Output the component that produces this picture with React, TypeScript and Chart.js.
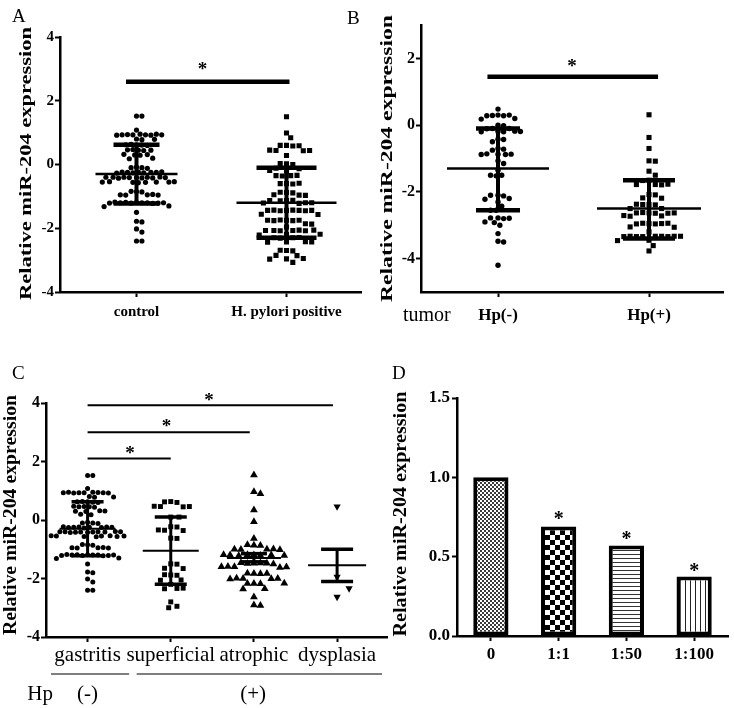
import React, { useEffect, useRef } from 'react';
import { Chart, registerables } from 'chart.js';

Chart.register(...registerables);

const SERIF = '"Liberation Serif", "Times New Roman", Times, serif';
const Y_TITLE = 'Relative miR-204 expression';

// ---------------- Panel A ----------------
const aCategories = ['control', 'H. pylori positive'];
const aControl = [
  1.52, 1.52,
  1.08,
  0.95, 0.93, 0.93, 0.94, 0.92, 0.93, 0.95, 0.92, 0.93,
  0.8, 0.78, 0.79,
  0.62, 0.63, 0.61, 0.6, 0.62,
  0.47, 0.45, 0.46, 0.44, 0.45,
  0.32, 0.3, 0.31, 0.29,
  0.18, 0.2,
  -0.08, -0.1, -0.1, -0.12,
  -0.24, -0.25, -0.26, -0.25, -0.24, -0.26, -0.25, -0.27, -0.23,
  -0.41, -0.4, -0.42, -0.4, -0.41, -0.39, -0.42, -0.4, -0.41, -0.43, -0.4,
  -0.56, -0.55, -0.54, -0.56, -0.55, -0.57, -0.55, -0.54,
  -0.85, -0.86, -0.84,
  -0.95, -0.96, -0.94, -0.95, -0.96,
  -1.19, -1.2, -1.21, -1.2, -1.19, -1.22, -1.2, -1.21, -1.18, -1.2, -1.21,
  -1.3, -1.32,
  -1.5,
  -1.78, -1.8,
  -2.02, -2.12,
  -2.4, -2.4,
];
const aHpylori = [
  1.5,
  0.99, 0.84,
  0.6, 0.58, 0.6, 0.59,
  0.44, 0.43, 0.45, 0.44,
  0.28,
  0.02, 0.0, 0.03,
  -0.12, -0.13,
  -0.2, -0.19,
  -0.35, -0.36, -0.34, -0.35,
  -0.6, -0.61, -0.6, -0.59,
  -0.88, -0.89, -0.87,
  -0.96, -0.95, -0.97,
  -1.13, -1.12, -1.14, -1.13,
  -1.22, -1.2, -1.21, -1.2,
  -1.44, -1.43, -1.45, -1.44, -1.43, -1.45, -1.44, -1.44,
  -1.56, -1.57,
  -1.75, -1.76, -1.74, -1.75, -1.76, -1.75,
  -1.86, -1.87,
  -1.96,
  -2.07, -2.08, -2.06, -2.07, -2.08, -2.07, -2.06,
  -2.2, -2.21, -2.19,
  -2.3, -2.31, -2.29, -2.3,
  -2.43, -2.42, -2.44, -2.43,
  -2.7, -2.71, -2.69,
  -2.85, -2.86,
  -2.96, -2.95, -2.97,
  -3.07,
];
const aMean = [-0.3, -1.2];
const aUpperSD = [0.62, -0.1];
const aLowerSD = [-1.22, -2.3];
const aYTicks = [-4, -2, 0, 2, 4];
const aSigBar = [-0.07, 1.02, 2.6]; // from group, to group, y
const aStar = [0.44, 3.1];

// ---------------- Panel B ----------------
const bCategories = ['Hp(-)', 'Hp(+)'];
const bHpNeg = [
  0.48,
  0.3, 0.28, 0.29, 0.3, 0.28,
  0.2, 0.18,
  0.0, -0.02,
  -0.1, -0.1, -0.11,
  -0.19, -0.2, -0.18, -0.2, -0.19,
  -0.42, -0.43, -0.5,
  -0.7, -0.72, -0.75,
  -0.87, -0.88, -0.86, -0.87, -0.88,
  -1.07, -1.15,
  -1.35, -1.5, -1.52, -1.5,
  -2.1, -2.12, -2.1,
  -2.2, -2.22, -2.3, -2.43,
  -2.55, -2.55,
  -2.78, -2.8, -2.78, -2.79,
  -2.9, -2.92, -3.0,
  -3.25,
  -3.48, -3.5,
  -4.2,
];
const bHpPos = [
  0.31, -0.37, -0.7,
  -1.07, -1.08,
  -1.38, -1.5,
  -1.65, -1.66,
  -1.78, -1.79, -1.78, -1.77,
  -2.08, -2.09, -2.18, -2.19,
  -2.38, -2.39, -2.38, -2.37,
  -2.5, -2.5,
  -2.63, -2.64, -2.62, -2.63, -2.64, -2.63,
  -2.72, -2.73, -2.71,
  -2.95, -2.96, -2.94, -2.95, -2.96, -2.94,
  -3.05, -3.06,
  -3.2,
  -3.33, -3.34, -3.33, -3.34, -3.33, -3.34, -3.33, -3.34, -3.33,
  -3.45, -3.46,
  -3.61,
  -3.77,
];
const bMean = [-1.3, -2.5];
const bUpperSD = [-0.1, -1.65];
const bLowerSD = [-2.55, -3.4];
const bYTicks = [-4, -2, 0, 2];
const bSigBar = [-0.07, 1.06, 1.45];
const bStar = [0.49, 1.87];
const bRowLabel = 'tumor';

// ---------------- Panel C ----------------
const cCategories = ['gastritis', 'superficial', 'atrophic', 'dysplasia'];
const cGastritis = aControl; // same Hp(-) gastritis samples as panel A control
const cSuperficial = [
  0.63, 0.6, 0.62,
  0.46, 0.45, 0.47, 0.46,
  0.1, 0.1,
  -0.23, -0.24,
  -0.35, -0.36, -0.34,
  -0.62, -0.63,
  -1.5, -1.51,
  -1.65, -1.66,
  -1.88, -1.89, -1.87,
  -2.05, -2.06,
  -2.2,
  -2.34, -2.35, -2.33,
  -2.8,
  -2.95, -3.0,
];
const cAtrophic = [
  1.54, 0.97, 0.9, 0.34, -0.06, -0.63,
  -0.86, -0.87, -0.85,
  -1.0, -1.01, -0.99, -1.0, -1.02,
  -1.2, -1.21, -1.19, -1.2, -1.22, -1.2, -1.21, -1.19,
  -1.48, -1.47, -1.49, -1.48, -1.46, -1.5,
  -1.6, -1.62, -1.59, -1.61, -1.6,
  -1.83, -1.84, -1.82, -1.83,
  -2.0, -2.01, -1.99, -2.0, -2.02,
  -2.17, -2.18, -2.16, -2.17,
  -2.35, -2.36,
  -2.63,
  -2.91, -2.92,
];
const cDysplasia = [0.46, -1.94, -2.63, -2.34];
const cMean = [-0.3, -1.05, -1.3, -1.55];
const cUpperSD = [0.62, 0.1, -1.15, -1.0];
const cLowerSD = [-1.22, -2.2, -1.43, -2.1];
const cYTicks = [-4, -2, 0, 2, 4];
const cSigBars = [
  [0, 1.0, 2.1],
  [0, 1.95, 3.0],
  [0, 2.95, 3.92],
];
const cStars = [
  [0.51, 2.4],
  [0.95, 3.32],
  [1.46, 4.21],
];
const cHpLabel = 'Hp';
const cHpLabelX = -0.57;
const cHpGroups = ['(-)', '(+)'];
const cHpCenters = [0, 1.99];
const cHpSpans = [
  [-0.44, 0.5],
  [0.59, 3.54],
];

// ---------------- Panel D ----------------
const dCategories = ['0', '1:1', '1:50', '1:100'];
const dValues = [1.0, 0.69, 0.57, 0.375];
const dYTicks = [0, 0.5, 1.0, 1.5];
const dStars = [
  [1, 0.76],
  [2, 0.63],
  [3, 0.43],
];

// ---------------- helpers ----------------
type GroupStyle = { pointStyle: string; radius: number; rotation: number; gap: number };
type TitleSpec = { cx: number; cy: number; len: number; size: number };
type ScatterSpec = {
  categories: string[];
  groups: number[][];
  styles: GroupStyle[];
  mean: number[];
  upper: number[];
  lower: number[];
  meanHalf: number[];
  capHalf: number[];
  meanWidth: number;
  capWidth: number;
  stemWidth: number;
  xMin: number;
  xMax: number;
  yMin: number;
  yMax: number;
  yTicks: number[];
  padTop: number;
  padRight: number;
  yAxisWidth: number;
  xAxisHeight: number;
  yTickSize: number;
  xTickSize: number;
  xTickBold: boolean;
  xTickPad: number;
  title: TitleSpec;
  sigBars: number[][];
  sigWidth: number;
  stars: number[][];
  starSize: number;
  extra?: (chart: any) => void;
};

function drawVerticalTitle(ctx: CanvasRenderingContext2D, t: TitleSpec) {
  ctx.save();
  ctx.font = `bold ${t.size}px ${SERIF}`;
  const w = ctx.measureText(Y_TITLE).width;
  ctx.translate(t.cx, t.cy);
  ctx.rotate(-Math.PI / 2);
  ctx.scale(t.len / w, 1);
  ctx.textAlign = 'center';
  ctx.textBaseline = 'middle';
  ctx.fillStyle = '#000';
  ctx.fillText(Y_TITLE, 0, 0);
  ctx.restore();
}

function drawStar(ctx: CanvasRenderingContext2D, px: number, py: number, size: number) {
  ctx.save();
  ctx.font = `bold ${size}px ${SERIF}`;
  ctx.textAlign = 'center';
  ctx.textBaseline = 'alphabetic';
  ctx.fillStyle = '#000';
  ctx.fillText('*', px, py + 0.47 * size);
  ctx.restore();
}

function hLine(ctx: CanvasRenderingContext2D, x1: number, x2: number, y: number, w: number) {
  ctx.lineWidth = w;
  ctx.beginPath();
  ctx.moveTo(x1, y);
  ctx.lineTo(x2, y);
  ctx.stroke();
}

function beeswarm(values: number[], center: number, xs: any, ys: any, gap: number) {
  const cx = xs.getPixelForValue(center);
  const placed: { x: number; y: number }[] = [];
  const step = gap / 3;
  return values.map((v) => {
    const py = ys.getPixelForValue(v);
    let px = cx;
    for (let n = 0; n < 400; n++) {
      const k = Math.ceil(n / 2);
      px = cx + (n % 2 === 1 ? k : -k) * step;
      if (placed.every((p) => (p.x - px) ** 2 + (p.y - py) ** 2 >= gap * gap)) break;
    }
    placed.push({ x: px, y: py });
    return { x: xs.getValueForPixel(px), y: v };
  });
}

function axisCommon() {
  return {
    grid: { drawOnChartArea: false, drawTicks: true, tickLength: 5, tickWidth: 2, tickColor: '#000', color: '#000' },
    border: { display: true, color: '#000', width: 2.5 },
  };
}

function buildScatter(canvas: HTMLCanvasElement, s: ScatterSpec) {
  const summaryPlugin = {
    id: 'summaryLines',
    afterDatasetsDraw(chart: any) {
      const { ctx, scales } = chart;
      const x = scales.x;
      const y = scales.y;
      ctx.save();
      ctx.strokeStyle = '#000';
      ctx.lineCap = 'butt';
      s.mean.forEach((m, i) => {
        const cx = x.getPixelForValue(i);
        const yu = y.getPixelForValue(s.upper[i]);
        const yl = y.getPixelForValue(s.lower[i]);
        ctx.lineWidth = s.stemWidth;
        ctx.beginPath();
        ctx.moveTo(cx, yu);
        ctx.lineTo(cx, yl);
        ctx.stroke();
        hLine(ctx, cx - s.capHalf[i], cx + s.capHalf[i], yu, s.capWidth);
        hLine(ctx, cx - s.capHalf[i], cx + s.capHalf[i], yl, s.capWidth);
        hLine(ctx, cx - s.meanHalf[i], cx + s.meanHalf[i], y.getPixelForValue(m), s.meanWidth);
      });
      ctx.restore();
    },
  };
  const annotPlugin = {
    id: 'annotations',
    afterDraw(chart: any) {
      const { ctx, scales } = chart;
      const x = scales.x;
      const y = scales.y;
      ctx.save();
      ctx.strokeStyle = '#000';
      ctx.fillStyle = '#000';
      s.sigBars.forEach(([a, b, v]) => {
        hLine(ctx, x.getPixelForValue(a), x.getPixelForValue(b), y.getPixelForValue(v), s.sigWidth);
      });
      s.stars.forEach(([a, v]) => drawStar(ctx, x.getPixelForValue(a), y.getPixelForValue(v), s.starSize));
      drawVerticalTitle(ctx, s.title);
      if (s.extra) s.extra(chart);
      ctx.restore();
    },
  };

  const chart = new Chart(canvas, {
    type: 'scatter',
    data: {
      datasets: s.groups.map((g, i) => ({
        data: g.map((v) => ({ x: i, y: v })),
        pointStyle: s.styles[i].pointStyle as any,
        pointRadius: s.styles[i].radius,
        pointHoverRadius: s.styles[i].radius,
        pointRotation: s.styles[i].rotation,
        backgroundColor: '#000',
        borderColor: '#000',
        borderWidth: 0,
      })),
    },
    options: {
      responsive: false,
      animation: false,
      events: [],
      layout: { padding: { top: s.padTop, right: s.padRight, left: 0, bottom: 0 } },
      plugins: { legend: { display: false }, tooltip: { enabled: false } },
      scales: {
        x: {
          type: 'linear',
          min: s.xMin,
          max: s.xMax,
          ...axisCommon(),
          afterBuildTicks: (scale: any) => {
            scale.ticks = s.categories.map((_, i) => ({ value: i }));
          },
          afterFit: (scale: any) => {
            scale.height = s.xAxisHeight;
          },
          ticks: {
            autoSkip: false,
            maxRotation: 0,
            padding: s.xTickPad,
            color: '#000',
            font: { family: SERIF, size: s.xTickSize, weight: s.xTickBold ? 'bold' : 'normal' },
            callback: (v: any) => s.categories[Math.round(Number(v))] ?? '',
          },
        },
        y: {
          type: 'linear',
          min: s.yMin,
          max: s.yMax,
          ...axisCommon(),
          afterBuildTicks: (scale: any) => {
            scale.ticks = s.yTicks.map((v) => ({ value: v }));
          },
          afterFit: (scale: any) => {
            scale.width = s.yAxisWidth;
          },
          ticks: {
            padding: 1,
            color: '#000',
            font: { family: SERIF, size: s.yTickSize, weight: 'bold' },
            callback: (v: any) => String(v),
          },
        },
      },
    } as any,
    plugins: [summaryPlugin, annotPlugin],
  });

  const xs = chart.scales.x;
  const ys = chart.scales.y;
  chart.data.datasets.forEach((ds: any, i: number) => {
    ds.data = beeswarm(s.groups[i], i, xs, ys, s.styles[i].gap);
  });
  chart.update('none');
  return chart;
}

function makePattern(kind: string): CanvasPattern {
  const c = document.createElement('canvas');
  const g = c.getContext('2d') as CanvasRenderingContext2D;
  if (kind === 'fine') {
    c.width = 4;
    c.height = 4;
    g.fillStyle = '#fff';
    g.fillRect(0, 0, 4, 4);
    g.fillStyle = '#3a3a3a';
    g.fillRect(0, 0, 2, 2);
    g.fillRect(2, 2, 2, 2);
  } else if (kind === 'checker') {
    c.width = 10;
    c.height = 10;
    g.fillStyle = '#fff';
    g.fillRect(0, 0, 10, 10);
    g.fillStyle = '#000';
    g.fillRect(0, 0, 5, 5);
    g.fillRect(5, 5, 5, 5);
  } else if (kind === 'hlines') {
    c.width = 4;
    c.height = 4;
    g.fillStyle = '#fff';
    g.fillRect(0, 0, 4, 4);
    g.fillStyle = '#333';
    g.fillRect(0, 0, 4, 1);
  } else {
    c.width = 5;
    c.height = 5;
    g.fillStyle = '#fff';
    g.fillRect(0, 0, 5, 5);
    g.fillStyle = '#222';
    g.fillRect(0, 0, 1, 5);
  }
  return g.createPattern(c, 'repeat') as CanvasPattern;
}

function buildBars(canvas: HTMLCanvasElement) {
  const patterns = ['fine', 'checker', 'hlines', 'vlines'].map(makePattern);
  const title: TitleSpec = { cx: 21, cy: 144, len: 245, size: 19 };
  const annotPlugin = {
    id: 'barAnnotations',
    afterDraw(chart: any) {
      const { ctx, scales } = chart;
      ctx.save();
      dStars.forEach(([i, v]) => drawStar(ctx, scales.x.getPixelForValue(i), scales.y.getPixelForValue(v), 20));
      drawVerticalTitle(ctx, title);
      ctx.restore();
    },
  };
  return new Chart(canvas, {
    type: 'bar',
    data: {
      labels: dCategories,
      datasets: [
        {
          data: dValues,
          backgroundColor: patterns as any,
          borderColor: '#000',
          borderWidth: 4,
          borderSkipped: false,
          barPercentage: 0.52,
          categoryPercentage: 1,
        },
      ],
    },
    options: {
      responsive: false,
      animation: false,
      events: [],
      layout: { padding: { top: 28, right: 6, left: 0, bottom: 0 } },
      plugins: { legend: { display: false }, tooltip: { enabled: false } },
      scales: {
        x: {
          ...axisCommon(),
          grid: { ...axisCommon().grid, offset: false },
          afterFit: (scale: any) => {
            scale.height = 72;
          },
          ticks: { padding: 3, color: '#000', font: { family: SERIF, size: 17, weight: 'bold' } },
        },
        y: {
          min: 0,
          max: 1.5,
          ...axisCommon(),
          afterBuildTicks: (scale: any) => {
            scale.ticks = dYTicks.map((v) => ({ value: v }));
          },
          afterFit: (scale: any) => {
            scale.width = 77;
          },
          ticks: {
            padding: 2,
            color: '#000',
            font: { family: SERIF, size: 17, weight: 'bold' },
            callback: (v: any) => Number(v).toFixed(1),
          },
        },
      },
    } as any,
    plugins: [annotPlugin],
  });
}

const specA: ScatterSpec = {
  categories: aCategories,
  groups: [aControl, aHpylori],
  styles: [
    { pointStyle: 'circle', radius: 2.6, rotation: 0, gap: 5.4 },
    { pointStyle: 'rect', radius: 3.6, rotation: 0, gap: 6.3 },
  ],
  mean: aMean,
  upper: aUpperSD,
  lower: aLowerSD,
  meanHalf: [41, 50],
  capHalf: [23, 30],
  meanWidth: 2.5,
  capWidth: 4.5,
  stemWidth: 4,
  xMin: -0.51,
  xMax: 1.5,
  yMin: -4,
  yMax: 4,
  yTicks: aYTicks,
  padTop: 37,
  padRight: 8.5,
  yAxisWidth: 60,
  xAxisHeight: 48,
  yTickSize: 15,
  xTickSize: 15,
  xTickBold: true,
  xTickPad: 6,
  title: { cx: 26.3, cy: 163.5, len: 273, size: 17 },
  sigBars: [aSigBar],
  sigWidth: 4.5,
  stars: [aStar],
  starSize: 19,
};

const specB: ScatterSpec = {
  categories: bCategories,
  groups: [bHpNeg, bHpPos],
  styles: [
    { pointStyle: 'circle', radius: 2.7, rotation: 0, gap: 5.6 },
    { pointStyle: 'rect', radius: 3.6, rotation: 0, gap: 6.3 },
  ],
  mean: bMean,
  upper: bUpperSD,
  lower: bLowerSD,
  meanHalf: [51, 52],
  capHalf: [22, 26],
  meanWidth: 2.5,
  capWidth: 4.5,
  stemWidth: 4,
  xMin: -0.51,
  xMax: 1.49,
  yMin: -5,
  yMax: 3,
  yTicks: bYTicks,
  padTop: 25,
  padRight: 11,
  yAxisWidth: 51,
  xAxisHeight: 48,
  yTickSize: 16,
  xTickSize: 17,
  xTickBold: true,
  xTickPad: 8.6,
  title: { cx: 17.2, cy: 158.5, len: 287, size: 17 },
  sigBars: [bSigBar],
  sigWidth: 4.5,
  stars: [bStar],
  starSize: 19,
  extra: (chart: any) => {
    const { ctx, chartArea } = chart;
    ctx.font = `20px ${SERIF}`;
    ctx.textAlign = 'left';
    ctx.textBaseline = 'alphabetic';
    ctx.fillStyle = '#000';
    ctx.fillText(bRowLabel, 33, chartArea.bottom + 29);
  },
};

const specC: ScatterSpec = {
  categories: cCategories,
  groups: [cGastritis, cSuperficial, cAtrophic, cDysplasia],
  styles: [
    { pointStyle: 'circle', radius: 2.5, rotation: 0, gap: 5.2 },
    { pointStyle: 'rect', radius: 3.5, rotation: 0, gap: 6.2 },
    { pointStyle: 'triangle', radius: 4.5, rotation: 0, gap: 6.5 },
    { pointStyle: 'triangle', radius: 4.2, rotation: 180, gap: 12 },
  ],
  mean: cMean,
  upper: cUpperSD,
  lower: cLowerSD,
  meanHalf: [28, 28, 27, 29],
  capHalf: [16, 16, 13, 16],
  meanWidth: 2,
  capWidth: 3.5,
  stemWidth: 3,
  xMin: -0.5,
  xMax: 3.6,
  yMin: -4,
  yMax: 4,
  yTicks: cYTicks,
  padTop: 33,
  padRight: 13,
  yAxisWidth: 46,
  xAxisHeight: 71,
  yTickSize: 16,
  xTickSize: 21,
  xTickBold: false,
  xTickPad: 1.3,
  title: { cx: 11, cy: 145, len: 240, size: 19 },
  sigBars: cSigBars,
  sigWidth: 2,
  stars: cStars,
  starSize: 19,
  extra: (chart: any) => {
    const { ctx, chartArea, scales } = chart;
    const x = scales.x;
    ctx.strokeStyle = '#000';
    cHpSpans.forEach(([a, b]) => hLine(ctx, x.getPixelForValue(a), x.getPixelForValue(b), chartArea.bottom + 37, 1.2));
    ctx.font = `21px ${SERIF}`;
    ctx.textAlign = 'center';
    ctx.textBaseline = 'alphabetic';
    ctx.fillStyle = '#000';
    ctx.fillText(cHpLabel, x.getPixelForValue(cHpLabelX), chartArea.bottom + 63);
    cHpGroups.forEach((t, i) => ctx.fillText(t, x.getPixelForValue(cHpCenters[i]), chartArea.bottom + 63));
  },
};

const letterStyle = (left: number, top: number): React.CSSProperties => ({
  position: 'absolute',
  left,
  top,
  fontFamily: SERIF,
  fontSize: 19,
  lineHeight: '19px',
  color: '#000',
});

export default function App() {
  const refA = useRef<HTMLCanvasElement>(null);
  const refB = useRef<HTMLCanvasElement>(null);
  const refC = useRef<HTMLCanvasElement>(null);
  const refD = useRef<HTMLCanvasElement>(null);

  useEffect(() => {
    Chart.defaults.color = '#000';
    Chart.defaults.font.family = SERIF;
    const charts = [
      buildScatter(refA.current as HTMLCanvasElement, specA),
      buildScatter(refB.current as HTMLCanvasElement, specB),
      buildScatter(refC.current as HTMLCanvasElement, specC),
      buildBars(refD.current as HTMLCanvasElement),
    ];
    return () => charts.forEach((c) => c.destroy());
  }, []);

  return (
    <div style={{ position: 'absolute', left: 0, top: 0, width: 734, height: 708, background: '#fff', overflow: 'hidden' }}>
      <canvas ref={refA} width={370} height={340} style={{ position: 'absolute', left: 0, top: 0 }} />
      <canvas ref={refB} width={364} height={340} style={{ position: 'absolute', left: 370, top: 0 }} />
      <canvas ref={refC} width={400} height={338} style={{ position: 'absolute', left: 0, top: 370 }} />
      <canvas ref={refD} width={354} height={338} style={{ position: 'absolute', left: 380, top: 370 }} />
      <div style={letterStyle(12, 6)}>A</div>
      <div style={letterStyle(347, 8)}>B</div>
      <div style={letterStyle(12, 363)}>C</div>
      <div style={letterStyle(392, 363)}>D</div>
    </div>
  );
}
